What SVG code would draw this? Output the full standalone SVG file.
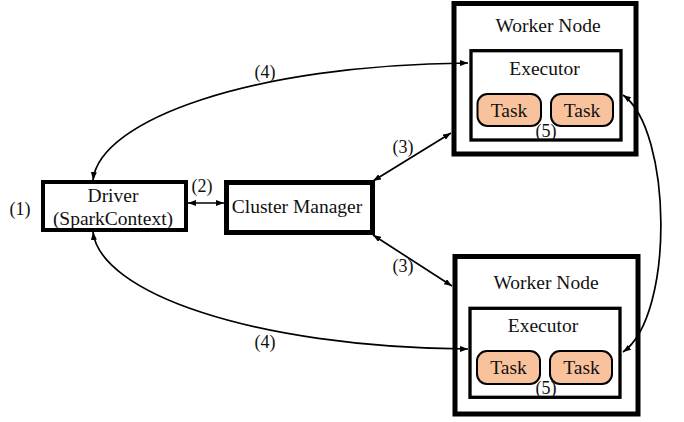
<svg xmlns="http://www.w3.org/2000/svg" width="684" height="422" viewBox="0 0 684 422">
<style>
  text { font-family: 'Liberation Serif', 'Noto Serif', 'DejaVu Serif', serif; font-size: 19.5px; fill: #111; text-anchor: middle; }
  .lbl { font-size: 18px; }
  .box { fill: #fff; stroke: #000; }
  .task { fill: #F8C29C; stroke: #000; stroke-width: 2; }
  .conn { fill: none; stroke: #000; stroke-width: 1.7; marker-start: url(#ah); marker-end: url(#ah); }
</style>
<defs>
  <marker id="ah" viewBox="0 0 8 6" refX="8" refY="3" markerWidth="8" markerHeight="6" markerUnits="userSpaceOnUse" orient="auto-start-reverse">
    <path d="M0,0 L8,3 L0,6 z" fill="#000"/>
  </marker>
</defs>
<rect width="684" height="422" fill="#fff"/>

<g id="driver">
  <rect class="box" x="43" y="182" width="143" height="48" stroke-width="4"/>
  <text x="113" y="202">Driver</text>
  <text x="113" y="225">(SparkContext)</text>
</g>

<g id="cluster-manager">
  <rect class="box" x="226.5" y="182.5" width="146" height="50" stroke-width="5"/>
  <text x="297" y="213">Cluster Manager</text>
</g>

<g id="worker-top">
  <rect class="box" x="454" y="3.5" width="182" height="150.5" stroke-width="5"/>
  <text x="548" y="32">Worker Node</text>
  <g id="executor-top">
    <rect class="box" x="471" y="50.7" width="150" height="89.3" stroke-width="3.3"/>
    <text x="544.5" y="75">Executor</text>
    <rect class="task" x="477.5" y="94" width="63.5" height="32" rx="10"/>
    <text x="509" y="117">Task</text>
    <rect class="task" x="551" y="94" width="62" height="32" rx="10"/>
    <text x="582" y="117">Task</text>
    <text class="lbl" x="546" y="137">(5)</text>
  </g>
</g>

<g id="worker-bottom">
  <rect class="box" x="455" y="256.5" width="183" height="157.5" stroke-width="5"/>
  <text x="546" y="289">Worker Node</text>
  <g id="executor-bottom">
    <rect class="box" x="470" y="308.3" width="150" height="89" stroke-width="3.3"/>
    <text x="543" y="332">Executor</text>
    <rect class="task" x="477" y="351" width="63" height="33" rx="10"/>
    <text x="508.5" y="374">Task</text>
    <rect class="task" x="550" y="351" width="62" height="33" rx="10"/>
    <text x="581.5" y="374">Task</text>
    <text class="lbl" x="546" y="394">(5)</text>
  </g>
</g>

<g id="connectors">
  <line class="conn" x1="188" y1="203" x2="224" y2="203"/>
  <line class="conn" x1="373" y1="181" x2="451" y2="133"/>
  <line class="conn" x1="373" y1="235" x2="452" y2="286"/>
  <path class="conn" d="M93,180 C100,120 250,65 468,63"/>
  <path class="conn" d="M93,232 C100,292 250,347 468,349"/>
  <path class="conn" d="M623,95 C672,130 675,315 623,352"/>
  <text class="lbl" x="20" y="215">(1)</text>
  <text class="lbl" x="202" y="192">(2)</text>
  <text class="lbl" x="403" y="153">(3)</text>
  <text class="lbl" x="403" y="272">(3)</text>
  <text class="lbl" x="265" y="78">(4)</text>
  <text class="lbl" x="265" y="348">(4)</text>
</g>
</svg>
